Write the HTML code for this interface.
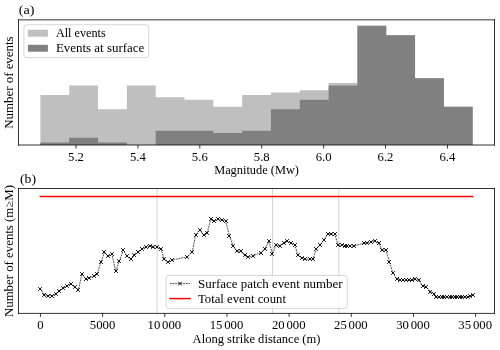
<!DOCTYPE html>
<html><head><meta charset="utf-8"><style>
html,body{margin:0;padding:0;background:#fff;width:500px;height:350px;overflow:hidden}
svg{display:block;will-change:transform}
text{font-family:"Liberation Serif",serif;fill:#000}
</style></head><body>
<svg width="500" height="350" viewBox="0 0 500 350">
<rect width="500" height="350" fill="#fff"/>
<path d="M40.40 145.00V94.94H69.22V145.00ZM69.22 145.00V85.40H98.04V145.00ZM98.04 145.00V109.24H126.86V145.00ZM126.86 145.00V85.40H155.68V145.00ZM155.68 145.00V97.32H184.50V145.00ZM184.50 145.00V99.71H213.32V145.00ZM213.32 145.00V106.86H242.14V145.00ZM242.14 145.00V94.94H270.96V145.00ZM270.96 145.00V92.56H299.78V145.00ZM299.78 145.00V90.17H328.60V145.00ZM328.60 145.00V83.02H357.42V145.00ZM357.42 145.00V25.81H386.24V145.00ZM386.24 145.00V35.34H415.06V145.00ZM415.06 145.00V78.25H443.88V145.00ZM443.88 145.00V106.86H472.70V145.00Z" fill="#bfbfbf"/>
<path d="M40.40 145.00V142.62H69.22V145.00ZM69.22 145.00V137.85H98.04V145.00ZM98.04 145.00V142.62H126.86V145.00ZM155.68 145.00V130.70H184.50V145.00ZM184.50 145.00V130.70H213.32V145.00ZM213.32 145.00V133.08H242.14V145.00ZM242.14 145.00V130.70H270.96V145.00ZM270.96 145.00V109.24H299.78V145.00ZM299.78 145.00V99.71H328.60V145.00ZM328.60 145.00V85.40H357.42V145.00ZM357.42 145.00V25.81H386.24V145.00ZM386.24 145.00V35.34H415.06V145.00ZM415.06 145.00V78.25H443.88V145.00ZM443.88 145.00V106.86H472.70V145.00Z" fill="#808080"/>
<line x1="18.5" y1="19.85" x2="494.5" y2="19.85" stroke="#000" stroke-width="0.8" stroke-linecap="square"/>
<line x1="18.5" y1="145.0" x2="494.5" y2="145.0" stroke="#000" stroke-width="0.8" stroke-linecap="square"/>
<line x1="18.5" y1="19.85" x2="18.5" y2="145.0" stroke="#000" stroke-width="0.8" stroke-linecap="square"/>
<line x1="494.5" y1="19.85" x2="494.5" y2="145.0" stroke="#000" stroke-width="0.8" stroke-linecap="square"/>
<line x1="76.00" y1="145.0" x2="76.00" y2="148.5" stroke="#000" stroke-width="0.8"/>
<text x="68.05" y="160.50" font-size="11.5" textLength="15.90" lengthAdjust="spacingAndGlyphs">5.2</text>
<line x1="137.91" y1="145.0" x2="137.91" y2="148.5" stroke="#000" stroke-width="0.8"/>
<text x="129.96" y="160.50" font-size="11.5" textLength="15.90" lengthAdjust="spacingAndGlyphs">5.4</text>
<line x1="199.82" y1="145.0" x2="199.82" y2="148.5" stroke="#000" stroke-width="0.8"/>
<text x="191.86" y="160.50" font-size="11.5" textLength="15.90" lengthAdjust="spacingAndGlyphs">5.6</text>
<line x1="261.72" y1="145.0" x2="261.72" y2="148.5" stroke="#000" stroke-width="0.8"/>
<text x="253.77" y="160.50" font-size="11.5" textLength="15.90" lengthAdjust="spacingAndGlyphs">5.8</text>
<line x1="323.63" y1="145.0" x2="323.63" y2="148.5" stroke="#000" stroke-width="0.8"/>
<text x="315.68" y="160.50" font-size="11.5" textLength="15.90" lengthAdjust="spacingAndGlyphs">6.0</text>
<line x1="385.54" y1="145.0" x2="385.54" y2="148.5" stroke="#000" stroke-width="0.8"/>
<text x="377.59" y="160.50" font-size="11.5" textLength="15.90" lengthAdjust="spacingAndGlyphs">6.2</text>
<line x1="447.45" y1="145.0" x2="447.45" y2="148.5" stroke="#000" stroke-width="0.8"/>
<text x="439.50" y="160.50" font-size="11.5" textLength="15.90" lengthAdjust="spacingAndGlyphs">6.4</text>
<text x="214.15" y="173.80" font-size="11.5" textLength="84.80" lengthAdjust="spacingAndGlyphs">Magnitude (Mw)</text>
<text transform="translate(13.00,82.60) rotate(-90)" x="-46.19" y="0" font-size="11.5" textLength="92.38" lengthAdjust="spacingAndGlyphs">Number of events</text>
<text x="18.80" y="14.00" font-size="13.0" textLength="15.69" lengthAdjust="spacingAndGlyphs">(a)</text>
<rect x="23.9" y="24.75" width="124.7" height="32.85" rx="2.5" fill="#fff" fill-opacity="0.8" stroke="#d6d6d6" stroke-width="1"/>
<rect x="27.9" y="29.8" width="20" height="6.9" fill="#bfbfbf"/>
<rect x="27.9" y="44.8" width="20" height="6.9" fill="#808080"/>
<text x="55.90" y="37.00" font-size="11.5" textLength="49.87" lengthAdjust="spacingAndGlyphs">All events</text>
<text x="55.90" y="52.00" font-size="11.5" textLength="88.33" lengthAdjust="spacingAndGlyphs">Events at surface</text>
<line x1="157.1" y1="188.4" x2="157.1" y2="313.6" stroke="#d3d3d3" stroke-width="1"/>
<line x1="272.5" y1="188.4" x2="272.5" y2="313.6" stroke="#d3d3d3" stroke-width="1"/>
<line x1="338.8" y1="188.4" x2="338.8" y2="313.6" stroke="#d3d3d3" stroke-width="1"/>
<line x1="40.4" y1="196.5" x2="472.7" y2="196.5" stroke="#f00" stroke-width="1.5" stroke-linecap="square"/>
<polyline points="40.3,288.8 44.5,294.6 47.9,295.5 51.8,295.5 55.6,293.8 59.2,291.4 63.2,288.4 67.1,285.6 70.7,283.7 74.6,286.9 78.4,289.8 82.0,274.0 85.8,279.3 89.0,278.4 93.5,276.0 97.0,274.2 100.9,262.5 104.5,252.1 108.3,256.3 112.0,254.4 115.7,271.4 119.4,261.1 123.2,250.3 127.1,256.3 130.9,258.9 134.5,255.4 138.3,252.0 142.0,248.7 145.5,247.4 149.7,246.3 153.1,247.2 156.9,246.9 161.1,249.4 164.3,259.4 168.3,262.0 172.3,260.0 187.3,256.9 192.2,252.0 195.7,234.8 199.6,230.0 203.5,234.8 207.2,233.1 210.6,219.4 214.3,221.2 218.0,219.1 222.0,220.1 225.7,221.1 229.4,235.5 233.1,246.2 237.1,251.2 240.6,251.2 244.6,255.2 248.3,257.1 252.9,255.8 260.9,252.6 264.9,248.7 268.9,241.3 272.5,253.8 275.9,245.3 279.7,245.8 283.5,242.9 287.4,241.0 291.1,243.1 294.6,245.0 298.2,255.3 301.6,257.8 305.4,259.3 309.7,259.3 312.9,259.1 316.3,249.0 320.2,244.7 324.0,239.6 327.8,233.9 331.3,233.8 334.8,234.0 338.1,245.4 341.5,245.4 344.6,246.2 346.9,246.0 349.7,246.0 354.1,246.0 363.7,243.1 367.3,243.1 371.1,241.7 374.9,240.6 378.7,243.1 382.3,250.3 385.9,249.9 389.4,261.6 393.0,273.2 396.7,279.1 399.8,280.1 403.2,280.5 406.3,280.5 409.1,280.5 412.3,280.5 415.4,278.6 418.9,280.5 422.6,285.7 426.3,287.1 430.5,291.5 434.5,294.3 436.5,297.2 439.1,297.2 441.7,297.2 444.3,297.2 446.9,297.2 449.5,297.2 452.1,297.2 454.7,297.2 457.3,297.2 459.9,297.2 462.5,297.2 465.1,297.2 467.7,297.2 470.0,296.0 473.0,295.3" fill="none" stroke="#000" stroke-width="0.7" stroke-dasharray="1.85 0.8"/>
<path d="M38.10 287.10l3.8 3.8M38.10 290.90l3.8 -3.8M42.10 293.10l3.8 3.8M42.10 296.90l3.8 -3.8M46.10 294.10l3.8 3.8M46.10 297.90l3.8 -3.8M50.10 294.10l3.8 3.8M50.10 297.90l3.8 -3.8M54.10 292.10l3.8 3.8M54.10 295.90l3.8 -3.8M57.10 289.10l3.8 3.8M57.10 292.90l3.8 -3.8M61.10 286.10l3.8 3.8M61.10 289.90l3.8 -3.8M65.10 284.10l3.8 3.8M65.10 287.90l3.8 -3.8M69.10 282.10l3.8 3.8M69.10 285.90l3.8 -3.8M73.10 285.10l3.8 3.8M73.10 288.90l3.8 -3.8M76.10 288.10l3.8 3.8M76.10 291.90l3.8 -3.8M80.10 272.10l3.8 3.8M80.10 275.90l3.8 -3.8M84.10 277.10l3.8 3.8M84.10 280.90l3.8 -3.8M87.10 276.10l3.8 3.8M87.10 279.90l3.8 -3.8M92.10 274.10l3.8 3.8M92.10 277.90l3.8 -3.8M95.10 272.10l3.8 3.8M95.10 275.90l3.8 -3.8M99.10 260.10l3.8 3.8M99.10 263.90l3.8 -3.8M102.10 250.10l3.8 3.8M102.10 253.90l3.8 -3.8M106.10 254.10l3.8 3.8M106.10 257.90l3.8 -3.8M110.10 252.10l3.8 3.8M110.10 255.90l3.8 -3.8M114.10 269.10l3.8 3.8M114.10 272.90l3.8 -3.8M117.10 259.10l3.8 3.8M117.10 262.90l3.8 -3.8M121.10 248.10l3.8 3.8M121.10 251.90l3.8 -3.8M125.10 254.10l3.8 3.8M125.10 257.90l3.8 -3.8M129.10 257.10l3.8 3.8M129.10 260.90l3.8 -3.8M132.10 253.10l3.8 3.8M132.10 256.90l3.8 -3.8M136.10 250.10l3.8 3.8M136.10 253.90l3.8 -3.8M140.10 247.10l3.8 3.8M140.10 250.90l3.8 -3.8M144.10 245.10l3.8 3.8M144.10 248.90l3.8 -3.8M148.10 244.10l3.8 3.8M148.10 247.90l3.8 -3.8M151.10 245.10l3.8 3.8M151.10 248.90l3.8 -3.8M155.10 245.10l3.8 3.8M155.10 248.90l3.8 -3.8M159.10 247.10l3.8 3.8M159.10 250.90l3.8 -3.8M162.10 257.10l3.8 3.8M162.10 260.90l3.8 -3.8M166.10 260.10l3.8 3.8M166.10 263.90l3.8 -3.8M170.10 258.10l3.8 3.8M170.10 261.90l3.8 -3.8M185.10 255.10l3.8 3.8M185.10 258.90l3.8 -3.8M190.10 250.10l3.8 3.8M190.10 253.90l3.8 -3.8M194.10 233.10l3.8 3.8M194.10 236.90l3.8 -3.8M198.10 228.10l3.8 3.8M198.10 231.90l3.8 -3.8M202.10 233.10l3.8 3.8M202.10 236.90l3.8 -3.8M205.10 231.10l3.8 3.8M205.10 234.90l3.8 -3.8M209.10 217.10l3.8 3.8M209.10 220.90l3.8 -3.8M212.10 219.10l3.8 3.8M212.10 222.90l3.8 -3.8M216.10 217.10l3.8 3.8M216.10 220.90l3.8 -3.8M220.10 218.10l3.8 3.8M220.10 221.90l3.8 -3.8M224.10 219.10l3.8 3.8M224.10 222.90l3.8 -3.8M227.10 234.10l3.8 3.8M227.10 237.90l3.8 -3.8M231.10 244.10l3.8 3.8M231.10 247.90l3.8 -3.8M235.10 249.10l3.8 3.8M235.10 252.90l3.8 -3.8M239.10 249.10l3.8 3.8M239.10 252.90l3.8 -3.8M243.10 253.10l3.8 3.8M243.10 256.90l3.8 -3.8M246.10 255.10l3.8 3.8M246.10 258.90l3.8 -3.8M251.10 254.10l3.8 3.8M251.10 257.90l3.8 -3.8M259.10 251.10l3.8 3.8M259.10 254.90l3.8 -3.8M263.10 247.10l3.8 3.8M263.10 250.90l3.8 -3.8M267.10 239.10l3.8 3.8M267.10 242.90l3.8 -3.8M270.10 252.10l3.8 3.8M270.10 255.90l3.8 -3.8M274.10 243.10l3.8 3.8M274.10 246.90l3.8 -3.8M278.10 244.10l3.8 3.8M278.10 247.90l3.8 -3.8M282.10 241.10l3.8 3.8M282.10 244.90l3.8 -3.8M285.10 239.10l3.8 3.8M285.10 242.90l3.8 -3.8M289.10 241.10l3.8 3.8M289.10 244.90l3.8 -3.8M293.10 243.10l3.8 3.8M293.10 246.90l3.8 -3.8M296.10 253.10l3.8 3.8M296.10 256.90l3.8 -3.8M300.10 256.10l3.8 3.8M300.10 259.90l3.8 -3.8M303.10 257.10l3.8 3.8M303.10 260.90l3.8 -3.8M308.10 257.10l3.8 3.8M308.10 260.90l3.8 -3.8M311.10 257.10l3.8 3.8M311.10 260.90l3.8 -3.8M314.10 247.10l3.8 3.8M314.10 250.90l3.8 -3.8M318.10 243.10l3.8 3.8M318.10 246.90l3.8 -3.8M322.10 238.10l3.8 3.8M322.10 241.90l3.8 -3.8M326.10 232.10l3.8 3.8M326.10 235.90l3.8 -3.8M329.10 232.10l3.8 3.8M329.10 235.90l3.8 -3.8M333.10 232.10l3.8 3.8M333.10 235.90l3.8 -3.8M336.10 243.10l3.8 3.8M336.10 246.90l3.8 -3.8M340.10 243.10l3.8 3.8M340.10 246.90l3.8 -3.8M343.10 244.10l3.8 3.8M343.10 247.90l3.8 -3.8M345.10 244.10l3.8 3.8M345.10 247.90l3.8 -3.8M348.10 244.10l3.8 3.8M348.10 247.90l3.8 -3.8M352.10 244.10l3.8 3.8M352.10 247.90l3.8 -3.8M362.10 241.10l3.8 3.8M362.10 244.90l3.8 -3.8M365.10 241.10l3.8 3.8M365.10 244.90l3.8 -3.8M369.10 240.10l3.8 3.8M369.10 243.90l3.8 -3.8M373.10 239.10l3.8 3.8M373.10 242.90l3.8 -3.8M377.10 241.10l3.8 3.8M377.10 244.90l3.8 -3.8M380.10 248.10l3.8 3.8M380.10 251.90l3.8 -3.8M384.10 248.10l3.8 3.8M384.10 251.90l3.8 -3.8M387.10 260.10l3.8 3.8M387.10 263.90l3.8 -3.8M391.10 271.10l3.8 3.8M391.10 274.90l3.8 -3.8M395.10 277.10l3.8 3.8M395.10 280.90l3.8 -3.8M398.10 278.10l3.8 3.8M398.10 281.90l3.8 -3.8M401.10 278.10l3.8 3.8M401.10 281.90l3.8 -3.8M404.10 278.10l3.8 3.8M404.10 281.90l3.8 -3.8M407.10 278.10l3.8 3.8M407.10 281.90l3.8 -3.8M410.10 278.10l3.8 3.8M410.10 281.90l3.8 -3.8M413.10 277.10l3.8 3.8M413.10 280.90l3.8 -3.8M417.10 278.10l3.8 3.8M417.10 281.90l3.8 -3.8M421.10 284.10l3.8 3.8M421.10 287.90l3.8 -3.8M424.10 285.10l3.8 3.8M424.10 288.90l3.8 -3.8M428.10 290.10l3.8 3.8M428.10 293.90l3.8 -3.8M432.10 292.10l3.8 3.8M432.10 295.90l3.8 -3.8M434.10 295.10l3.8 3.8M434.10 298.90l3.8 -3.8M437.10 295.10l3.8 3.8M437.10 298.90l3.8 -3.8M440.10 295.10l3.8 3.8M440.10 298.90l3.8 -3.8M442.10 295.10l3.8 3.8M442.10 298.90l3.8 -3.8M445.10 295.10l3.8 3.8M445.10 298.90l3.8 -3.8M448.10 295.10l3.8 3.8M448.10 298.90l3.8 -3.8M450.10 295.10l3.8 3.8M450.10 298.90l3.8 -3.8M453.10 295.10l3.8 3.8M453.10 298.90l3.8 -3.8M455.10 295.10l3.8 3.8M455.10 298.90l3.8 -3.8M458.10 295.10l3.8 3.8M458.10 298.90l3.8 -3.8M460.10 295.10l3.8 3.8M460.10 298.90l3.8 -3.8M463.10 295.10l3.8 3.8M463.10 298.90l3.8 -3.8M466.10 295.10l3.8 3.8M466.10 298.90l3.8 -3.8M468.10 294.10l3.8 3.8M468.10 297.90l3.8 -3.8M471.10 293.10l3.8 3.8M471.10 296.90l3.8 -3.8" stroke="#000" stroke-width="0.9" fill="none"/>
<line x1="18.5" y1="188.5" x2="494.5" y2="188.5" stroke="#000" stroke-width="0.8" stroke-linecap="square"/>
<line x1="18.5" y1="313.4" x2="494.5" y2="313.4" stroke="#000" stroke-width="0.8" stroke-linecap="square"/>
<line x1="18.5" y1="188.5" x2="18.5" y2="313.4" stroke="#000" stroke-width="0.8" stroke-linecap="square"/>
<line x1="494.5" y1="188.5" x2="494.5" y2="313.4" stroke="#000" stroke-width="0.8" stroke-linecap="square"/>
<line x1="40.45" y1="313.4" x2="40.45" y2="316.9" stroke="#000" stroke-width="0.8"/>
<text x="37.27" y="328.90" font-size="11.5" textLength="6.36" lengthAdjust="spacingAndGlyphs">0</text>
<line x1="102.61" y1="313.4" x2="102.61" y2="316.9" stroke="#000" stroke-width="0.8"/>
<text x="89.89" y="328.90" font-size="11.5" textLength="25.45" lengthAdjust="spacingAndGlyphs">5000</text>
<line x1="164.78" y1="313.4" x2="164.78" y2="316.9" stroke="#000" stroke-width="0.8"/>
<text x="147.57" y="328.90" font-size="11.5" textLength="12.72" lengthAdjust="spacingAndGlyphs">10</text>
<text x="162.10" y="328.90" font-size="11.5" textLength="19.09" lengthAdjust="spacingAndGlyphs">000</text>
<line x1="226.94" y1="313.4" x2="226.94" y2="316.9" stroke="#000" stroke-width="0.8"/>
<text x="209.74" y="328.90" font-size="11.5" textLength="12.72" lengthAdjust="spacingAndGlyphs">15</text>
<text x="224.26" y="328.90" font-size="11.5" textLength="19.09" lengthAdjust="spacingAndGlyphs">000</text>
<line x1="289.11" y1="313.4" x2="289.11" y2="316.9" stroke="#000" stroke-width="0.8"/>
<text x="271.90" y="328.90" font-size="11.5" textLength="12.72" lengthAdjust="spacingAndGlyphs">20</text>
<text x="286.43" y="328.90" font-size="11.5" textLength="19.09" lengthAdjust="spacingAndGlyphs">000</text>
<line x1="351.27" y1="313.4" x2="351.27" y2="316.9" stroke="#000" stroke-width="0.8"/>
<text x="334.07" y="328.90" font-size="11.5" textLength="12.72" lengthAdjust="spacingAndGlyphs">25</text>
<text x="348.59" y="328.90" font-size="11.5" textLength="19.09" lengthAdjust="spacingAndGlyphs">000</text>
<line x1="413.44" y1="313.4" x2="413.44" y2="316.9" stroke="#000" stroke-width="0.8"/>
<text x="396.23" y="328.90" font-size="11.5" textLength="12.72" lengthAdjust="spacingAndGlyphs">30</text>
<text x="410.75" y="328.90" font-size="11.5" textLength="19.09" lengthAdjust="spacingAndGlyphs">000</text>
<line x1="475.60" y1="313.4" x2="475.60" y2="316.9" stroke="#000" stroke-width="0.8"/>
<text x="458.39" y="328.90" font-size="11.5" textLength="12.72" lengthAdjust="spacingAndGlyphs">35</text>
<text x="472.92" y="328.90" font-size="11.5" textLength="19.09" lengthAdjust="spacingAndGlyphs">000</text>
<text x="192.61" y="343.00" font-size="11.5" textLength="127.88" lengthAdjust="spacingAndGlyphs">Along strike distance (m)</text>
<text transform="translate(13.00,251.00) rotate(-90)" x="-66.05" y="0" font-size="11.5" textLength="132.09" lengthAdjust="spacingAndGlyphs">Number of events (m≥M)</text>
<text x="20.00" y="182.90" font-size="13.0" textLength="16.19" lengthAdjust="spacingAndGlyphs">(b)</text>
<rect x="166.0" y="275.5" width="181.3" height="32.85" rx="2.5" fill="#fff" fill-opacity="0.8" stroke="#d6d6d6" stroke-width="1"/>
<line x1="170.0" y1="283.6" x2="190.0" y2="283.6" stroke="#000" stroke-width="0.7" stroke-dasharray="1.85 0.8"/>
<path d="M178.1 281.70000000000005l3.8 3.8M178.1 285.5l3.8 -3.8" stroke="#000" stroke-width="0.9"/>
<line x1="170.0" y1="298.6" x2="190.0" y2="298.6" stroke="#f00" stroke-width="1.5" stroke-linecap="square"/>
<text x="198.00" y="288.00" font-size="11.5" textLength="144.62" lengthAdjust="spacingAndGlyphs">Surface patch event number</text>
<text x="198.00" y="302.60" font-size="11.5" textLength="87.92" lengthAdjust="spacingAndGlyphs">Total event count</text>
</svg>
</body></html>
